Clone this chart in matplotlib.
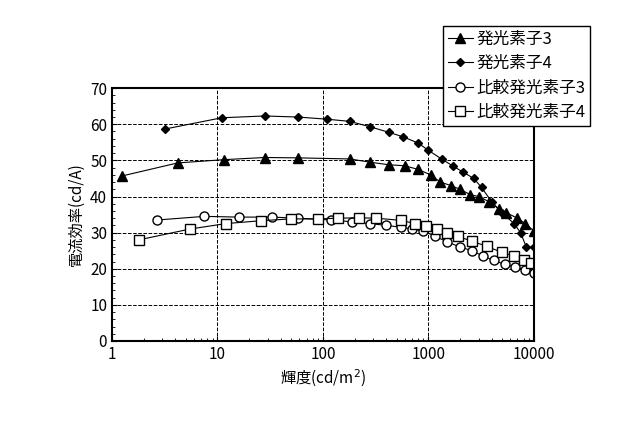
import matplotlib
matplotlib.use("Agg")
import matplotlib.pyplot as plt

plt.rcParams["font.family"] = "Noto Sans CJK JP"

# data
tri_x = [1.25, 4.2, 11.5, 28, 58, 180, 280, 420, 600, 800, 1050, 1300, 1650, 2000, 2500, 3000, 3800, 4700, 5500, 7000, 8300, 10000]
tri_y = [45.7, 49.3, 50.2, 50.8, 50.7, 50.4, 49.5, 48.8, 48.5, 47.5, 46, 44, 43, 42, 40.5, 40, 38.5, 36.5, 35.5, 34, 32.5, 30.5]
dia_x = [3.2, 11, 28, 58, 110, 180, 280, 420, 580, 800, 1000, 1350, 1700, 2150, 2700, 3200, 4000, 5000, 6500, 7500, 8500, 10000]
dia_y = [58.7, 61.8, 62.3, 62, 61.4, 60.8, 59.3, 57.8, 56.5, 54.8, 52.8, 50.3, 48.5, 46.7, 45, 42.5, 38.5, 35.5, 32.5, 30, 26, 26]
cir_x = [2.7, 7.5, 16, 33, 58, 120, 190, 280, 400, 550, 700, 900, 1150, 1500, 2000, 2600, 3300, 4200, 5300, 6700, 8300, 10000]
cir_y = [33.5, 34.5, 34.3, 34.3, 34, 33.5, 33, 32.5, 32, 31.5, 31, 30.5, 29, 27.5, 26, 25, 23.5, 22.3, 21.2, 20.5, 19.7, 18.7]
sq_x = [1.8, 5.5, 12, 26, 50, 90, 140, 220, 320, 550, 750, 950, 1200, 1500, 1900, 2600, 3600, 5000, 6500, 8000, 9500]
sq_y = [28, 31, 32.5, 33.3, 33.8, 33.8, 34, 34.1, 34, 33.4, 32.5, 31.7, 31, 30, 29, 27.6, 26.2, 24.5, 23.5, 22.5, 21.5]
labels = ["発光素子3", "発光素子4", "比較発光素子3", "比較発光素子4"]

fig = plt.figure(figsize=(6.4, 4.3), dpi=100)
ax = fig.add_axes([0.175, 0.207, 0.659, 0.588])

ax.plot(tri_x, tri_y, "k-^", ms=6.5, lw=0.8, label=labels[0])
ax.plot(dia_x, dia_y, "k-D", ms=4.5, lw=0.8, label=labels[1])
ax.plot(cir_x, cir_y, "k-o", ms=6.5, mfc="white", lw=0.8, label=labels[2])
ax.plot(sq_x, sq_y, "k-s", ms=6.5, mfc="white", lw=0.8, label=labels[3])

ax.set_xscale("log")
ax.set_xlim(1, 10000)
ax.set_ylim(0, 70)
ax.set_yticks(range(0, 71, 10))
ax.set_yticks(range(0, 71, 2), minor=True)
ax.set_xticks([1, 10, 100, 1000, 10000])
ax.set_xticklabels(["1", "10", "100", "1000", "10000"])
ax.grid(True, which="major", color="black", linestyle="--", lw=0.7)
ax.tick_params(which="both", direction="in", labelsize=11)
for s in ax.spines.values():
    s.set_linewidth(1.5)
ax.set_xlabel("輝度(cd/m$^2$)", fontsize=11)
ax.set_ylabel("電流効率(cd/A)", fontsize=11)

fig.legend(loc="upper right", bbox_to_anchor=(0.935, 0.96), fontsize=12, frameon=True,
           fancybox=False, edgecolor="black", framealpha=1, handlelength=1.5,
           handletextpad=0.2, borderpad=0.3, labelspacing=0.45)

fig.savefig("out.png")
